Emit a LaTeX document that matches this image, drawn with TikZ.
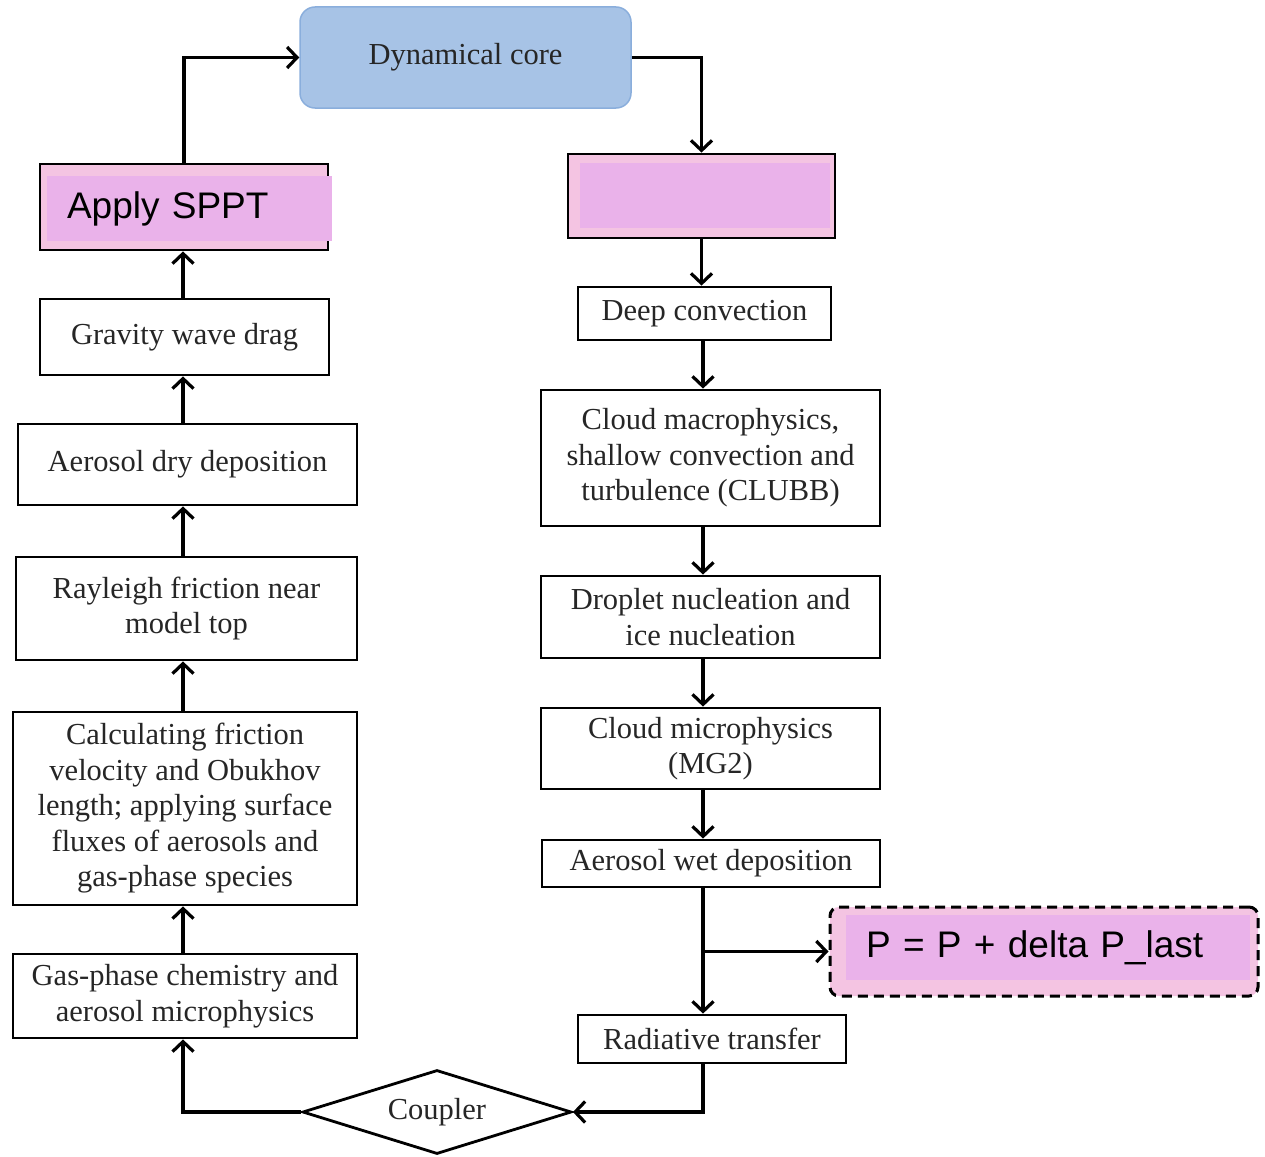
\documentclass[tikz,border=0pt]{standalone}
\usepackage{fontspec}
\setmainfont{Liberation Serif}
\newfontfamily\sansf{Liberation Sans}
\usetikzlibrary{arrows.meta,shapes.geometric,calc}
\definecolor{dynfill}{HTML}{A7C3E6}
\definecolor{dynline}{HTML}{8AAEDC}
\definecolor{pinkout}{HTML}{F4C4E2}
\definecolor{pinkin}{HTML}{EAB2EA}
\definecolor{txt}{HTML}{262626}
\begin{document}
\begin{tikzpicture}[x=1pt,y=-1pt,
  box/.style={draw=black,line width=2.8pt,fill=white,inner sep=0pt,align=center,text=txt,
    font=\fontsize{30.5}{35.5}\selectfont},
  outerpink/.style={draw=black,line width=2.8pt,fill=pinkout,inner sep=0pt},
  patch/.style={fill=pinkin,inner xsep=20pt,inner ysep=0pt,align=left,text=black,
    font=\sansf\fontsize{37}{40}\selectfont},
  arr/.style={line width=3.2pt,-{Straight Barb[length=10pt,width=21pt,line width=3.2pt]}},
  ]
\useasboundingbox (0,0) rectangle (1265,1156);
% top
\node[draw=dynline,line width=1.5pt,fill=dynfill,rounded corners=15pt,minimum width=331pt,minimum height=101pt,
  inner sep=0pt,text=txt,font=\fontsize{30.5}{35.5}\selectfont] (dyn) at (465.5,57.5) {Dynamical core};
% left column
\node[outerpink,minimum width=288pt,minimum height=86pt] (sppt) at (184,207) {};
\node[patch,minimum width=285pt,minimum height=65pt,text width=245pt] (spptp) at (189.5,208.5) {Apply SPPT};
\node[box,minimum width=289pt,minimum height=76pt] (grav) at (184.5,337) {Gravity wave drag};
\node[box,minimum width=339pt,minimum height=81pt] (adry) at (187.5,464.5) {Aerosol dry deposition};
\node[box,minimum width=341pt,minimum height=103pt] (rayl) at (186.5,608.5) {Rayleigh friction near\\model top};
\node[box,minimum width=344pt,minimum height=193pt] (calc) at (185,808.5) {Calculating friction\\velocity and Obukhov\\length; applying surface\\fluxes of aerosols and\\gas-phase species};
\node[box,minimum width=344pt,minimum height=84pt] (gas) at (185,996) {Gas-phase chemistry and\\aerosol microphysics};
% right column
\node[outerpink,minimum width=267pt,minimum height=84pt] (pinkr) at (701.5,196) {};
\node[patch,minimum width=250pt,minimum height=65pt] (pinkrp) at (705,195.5) {};
\node[box,minimum width=253pt,minimum height=53pt] (deep) at (704.5,313.5) {Deep convection};
\node[box,minimum width=339pt,minimum height=136pt] (cmac) at (710.5,458) {Cloud macrophysics,\\shallow convection and\\turbulence (CLUBB)};
\node[box,minimum width=339pt,minimum height=82pt] (drop) at (710.5,617) {Droplet nucleation and\\ice nucleation};
\node[box,minimum width=339pt,minimum height=81pt] (cmic) at (710.5,748.5) {Cloud microphysics\\(MG2)};
\node[box,minimum width=338pt,minimum height=47pt] (wet) at (711,863.5) {Aerosol wet deposition};
\node[box,minimum width=268pt,minimum height=48pt] (rad) at (712,1039) {Radiative transfer};
\node[box,shape=diamond,minimum width=269pt,minimum height=84pt,aspect=3.2] (coup) at (437,1112) {Coupler};
% dashed box
\node[draw=black,line width=3pt,dash pattern=on 10pt off 6pt,rounded corners=9pt,fill=pinkout,
  minimum width=428pt,minimum height=89pt,inner sep=0pt] (dash) at (1044,951.5) {};
\node[patch,minimum width=404pt,minimum height=65pt,text width=364pt] (dashp) at (1048,947.5) {P = P + delta P\_last};
% connectors
\coordinate (rx) at (703,0);
\coordinate (lx) at (183,0);
\draw[arr] (sppt.north) |- (dyn.west);
\draw[arr] (dyn.east) -| (pinkr.north);
\draw[arr] (pinkr.south) -- (pinkr.south |- deep.north);
\draw[arr] (deep.south -| rx) -- (cmac.north -| rx);
\draw[arr] (cmac.south -| rx) -- (drop.north -| rx);
\draw[arr] (drop.south -| rx) -- (cmic.north -| rx);
\draw[arr] (cmic.south -| rx) -- (wet.north -| rx);
\draw[arr] (wet.south -| rx) -- (rad.north -| rx);
\coordinate (br) at (rx |- dash.west);
\draw[arr] (br) -- (dash.west);
\draw[arr] (rad.south -| rx) |- (coup.east);
\draw[arr] (coup.west) -| (gas.south -| lx);
\draw[arr] (gas.north -| lx) -- (calc.south -| lx);
\draw[arr] (calc.north -| lx) -- (rayl.south -| lx);
\draw[arr] (rayl.north -| lx) -- (adry.south -| lx);
\draw[arr] (adry.north -| lx) -- (grav.south -| lx);
\draw[arr] (grav.north -| lx) -- (sppt.south -| lx);
\end{tikzpicture}
\end{document}
